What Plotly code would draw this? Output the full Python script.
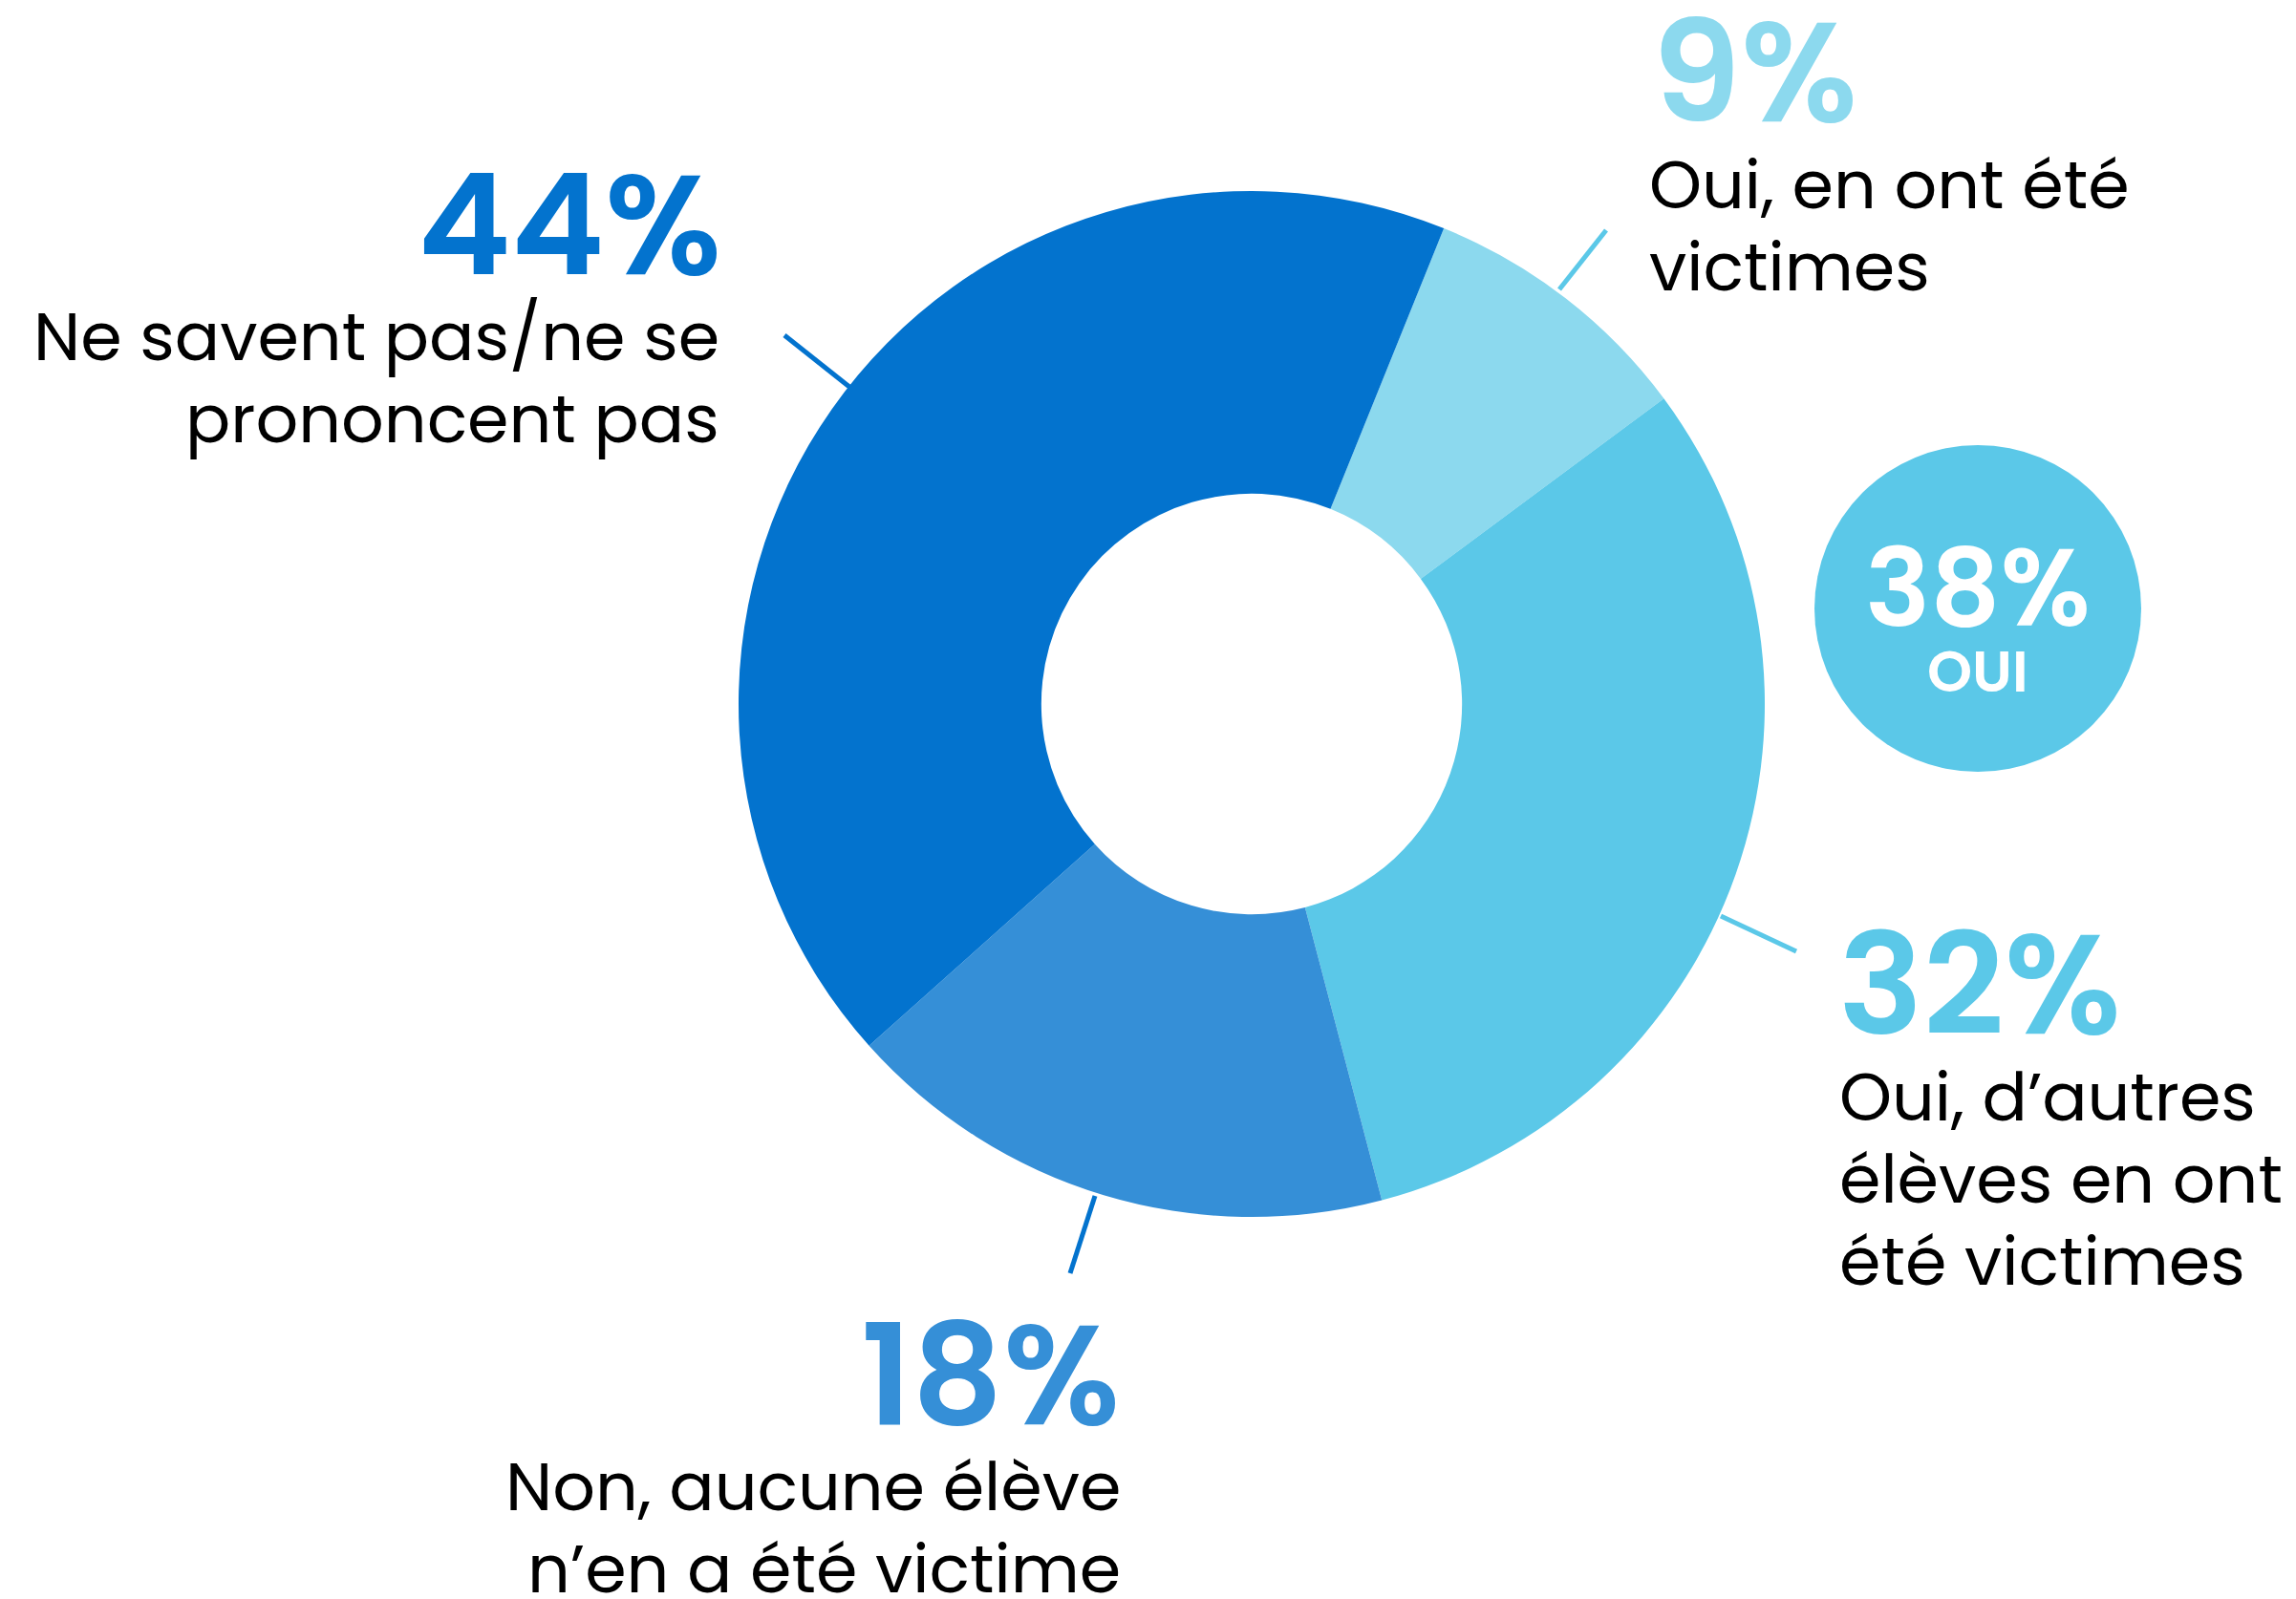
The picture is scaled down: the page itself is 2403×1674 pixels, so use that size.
import plotly.graph_objects as go

W, H = 2403, 1674
OFF = 8  # default page body margin

# Data
categories = ["Oui, en ont été victimes", "Oui, d'autres élèves en ont été victimes",
              "Non, aucune élève n'en a été victime", "Ne savent pas/ne se prononcent pas"]
values = [9, 32, 18, 44]
pct_labels = ["9%", "32%", "18%", "44%"]
label_lines = [
    ["Oui, en ont été", "victimes"],
    ["Oui, d\u2019autres", "élèves en ont", "été victimes"],
    ["Non, aucune élève", "n\u2019en a été victime"],
    ["Ne savent pas/ne se", "prononcent pas"],
]
total_yes = "38%"
total_yes_label = "OUI"

colors = ["#8CD9EE", "#5BC8E8", "#358FD7", "#0373CE"]
line_colors = ["#5BC8E8", "#5BC8E8", "#0373CE", "#0373CE"]

FONT = "Poppins, Inter, sans-serif"

def px(x):
    return (x - OFF) / W

def py(y):
    return 1 - (y - OFF) / H

cx, cy, R = 1310, 737, 537

fig = go.Figure()
fig.add_trace(go.Pie(
    values=values,
    labels=categories,
    marker=dict(colors=colors, line=dict(width=0)),
    hole=0.41,
    sort=False,
    direction="clockwise",
    rotation=22,
    textinfo="none",
    hoverinfo="label+percent",
    showlegend=False,
    domain=dict(x=[px(cx - R), px(cx + R)], y=[py(cy + R), py(cy - R)]),
))

# label layout: (pct anchor x, pct center y, xanchor, line x, first baseline, line step)
layout_spec = [
    (1727, 76, "left", 1724, 219, 86),
    (1922, 1030, "left", 1923, 1174, 86),
    (1174, 1439, "right", 1175, 1582, 86),
    (757, 236, "right", 755, 378, 86),
]
leaders = [
    ((1632, 303), (1681, 241)),
    ((1801, 959), (1880, 996)),
    ((1146, 1252), (1120, 1333)),
    ((889, 405), (821, 351)),
]

annotations = []
shapes = []
NUM_FS = 148
LBL_FS = 70
for i, (ax, ay, anc, lx, b0, step) in enumerate(layout_spec):
    annotations.append(dict(
        x=px(ax), y=py(ay), xref="paper", yref="paper", xanchor=anc, yanchor="middle",
        text=pct_labels[i], showarrow=False,
        font=dict(family=FONT, size=NUM_FS, color=colors[i], weight=600),
    ))
    for j, ln in enumerate(label_lines[i]):
        base = b0 + j * step
        annotations.append(dict(
            x=px(lx), y=py(base - 0.36 * LBL_FS), xref="paper", yref="paper",
            xanchor=anc, yanchor="middle", text=ln, showarrow=False,
            font=dict(family=FONT, size=LBL_FS, color="#000000"),
        ))
    (x0, y0), (x1, y1) = leaders[i]
    shapes.append(dict(type="line", xref="paper", yref="paper",
                       x0=px(x0), y0=py(y0), x1=px(x1), y1=py(y1),
                       line=dict(color=line_colors[i], width=5)))

# "38% OUI" bubble
bx, by, br = 2070, 637, 171
shapes.append(dict(type="circle", xref="paper", yref="paper",
                   x0=px(bx - br), x1=px(bx + br), y0=py(by + br), y1=py(by - br),
                   fillcolor="#5BC8E8", line=dict(width=0), layer="below"))
annotations.append(dict(x=px(bx), y=py(615), xref="paper", yref="paper",
                        xanchor="center", yanchor="middle", text=total_yes, showarrow=False,
                        font=dict(family=FONT, size=114, color="#FFFFFF", weight=600)))
annotations.append(dict(x=px(bx), y=py(703), xref="paper", yref="paper",
                        xanchor="center", yanchor="middle", text=total_yes_label, showarrow=False,
                        font=dict(family=FONT, size=60, color="#FFFFFF", weight=600)))

fig.update_layout(
    width=W, height=H,
    margin=dict(l=0, r=0, t=0, b=0),
    paper_bgcolor="#FFFFFF", plot_bgcolor="#FFFFFF",
    annotations=annotations, shapes=shapes,
)

fig.write_html("out.html")
